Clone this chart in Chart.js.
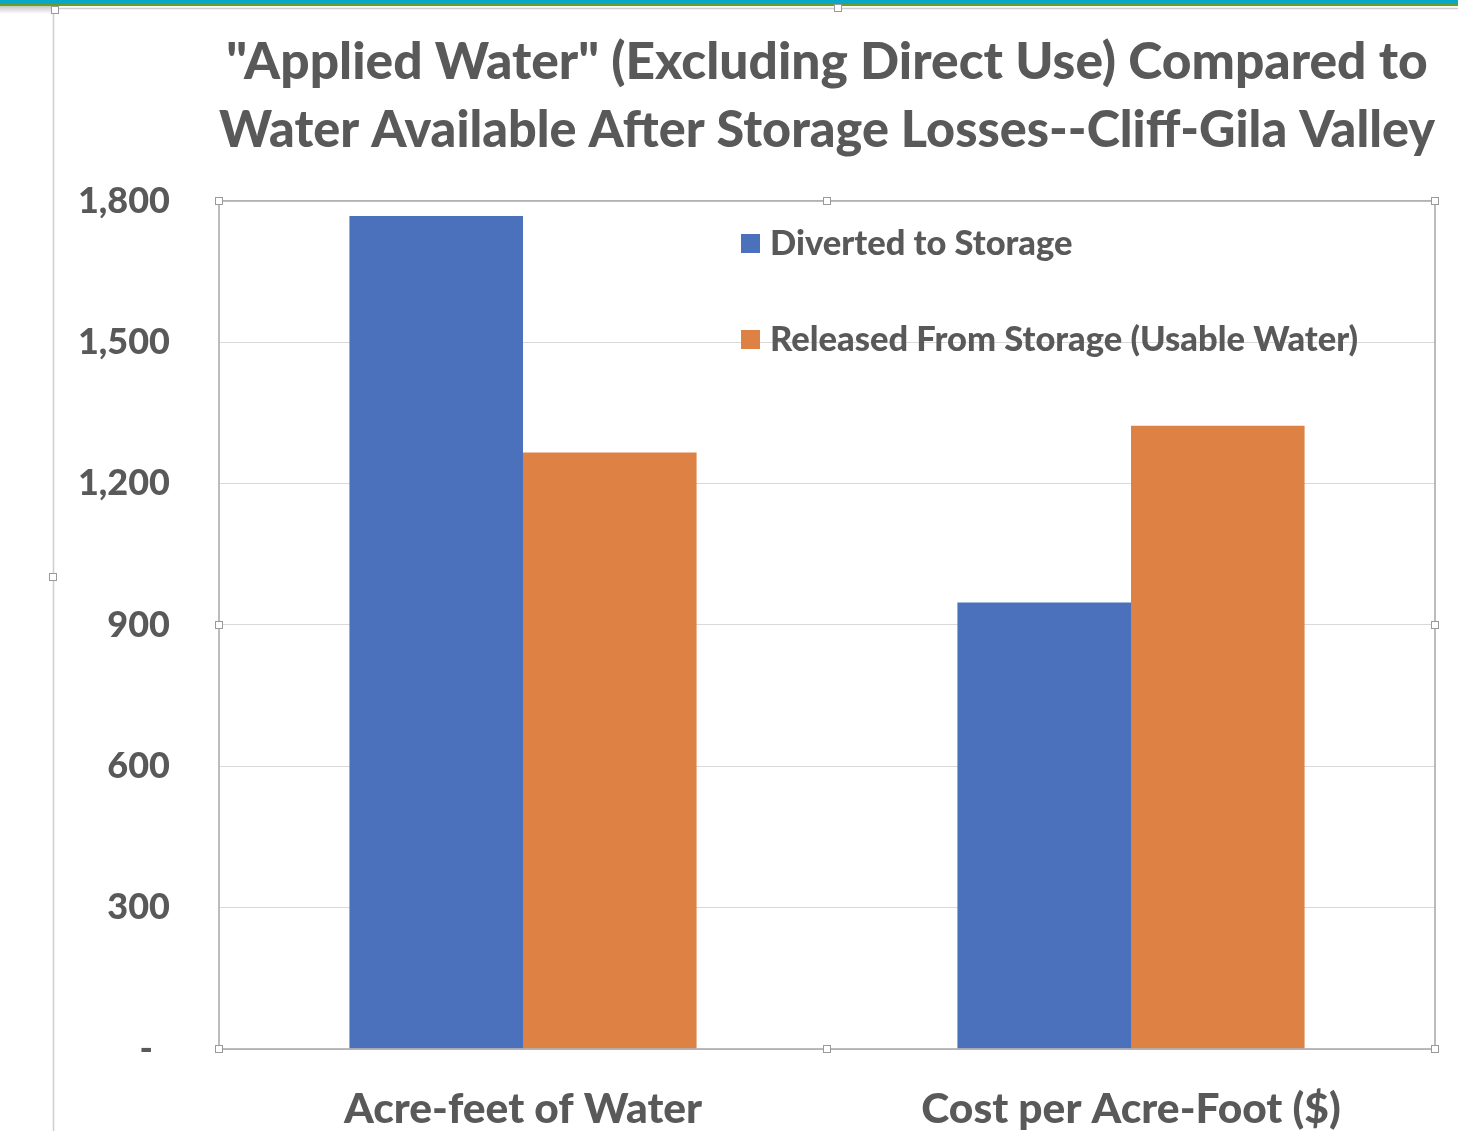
<!DOCTYPE html>
<html>
<head>
<meta charset="utf-8">
<script src="https://cdn.jsdelivr.net/npm/chart.js@4.4.1/dist/chart.umd.min.js"></script>
<style>
  html, body { margin: 0; padding: 0; background: #fff; }
  #wrap { position: relative; width: 1458px; height: 1131px; }
</style>
</head>
<body>
<div id="wrap"><canvas id="chart" width="1458" height="1131"></canvas></div>
<script>
// chart data
const categories = ['Acre-feet of Water', 'Cost per Acre-Foot ($)'];
const seriesNames = ['Diverted to Storage', 'Released From Storage (Usable Water)'];
const divertedValues = [1768, 948];
const releasedValues = [1266, 1323];
const yTicks = [0, 300, 600, 900, 1200, 1500, 1800];
const titleLines = ['"Applied Water" (Excluding Direct Use) Compared to', 'Water Available After Storage Losses--Cliff-Gila Valley'];

const TEXT = '#595959';
const BLUE = '#4B70BC';
const ORANGE = '#DE8145';
const FONT = 'Lato, "Open Sans", sans-serif';
const WEIGHT = '900';

// small white square with grey border, like the Office selection handles
function handle(ctx, x, y) {
    ctx.fillStyle = '#fff';
    ctx.strokeStyle = '#9a9a9a';
    ctx.lineWidth = 1;
    ctx.fillRect(x - 4, y - 4, 8, 8);
    ctx.strokeRect(x - 3.5, y - 3.5, 7, 7);
}

/**
 * Page decoration: teal band on top, the outer frame, plot border, handles.
 */
const frame = {
    id: 'frame',
    beforeDraw(chart) {
        const ctx = chart.ctx;
        ctx.save();
        ctx.fillStyle = '#fff';
        ctx.fillRect(0, 0, chart.width, chart.height);
        // top band
        ctx.fillStyle = '#0AA7C9';
        ctx.fillRect(0, 0, chart.width, 4);
        ctx.fillStyle = '#6A9F24';
        ctx.fillRect(0, 4, chart.width, 2);
        // shadow under the band on the left
        const g = ctx.createLinearGradient(0, 6, 0, 14);
        g.addColorStop(0, 'rgba(160,160,160,0.6)');
        g.addColorStop(1, 'rgba(160,160,160,0)');
        ctx.fillStyle = g;
        ctx.fillRect(0, 6, 52, 8);
        // outer frame
        ctx.strokeStyle = '#cfcfcf';
        ctx.lineWidth = 1.5;
        ctx.beginPath();
        ctx.moveTo(53.5, chart.height);
        ctx.lineTo(53.5, 8.5);
        ctx.lineTo(chart.width, 8.5);
        ctx.stroke();
        ctx.restore();
    },
    afterDraw(chart) {
        const ctx = chart.ctx;
        const a = chart.chartArea;
        ctx.save();
        ctx.strokeStyle = '#a6a6a6';
        ctx.lineWidth = 1.5;
        ctx.strokeRect(a.left, a.top, a.right - a.left, a.bottom - a.top);
        const mx = (a.left + a.right) / 2;
        const my = (a.top + a.bottom) / 2;
        [[a.left, a.top], [mx, a.top], [a.right, a.top],
         [a.left, my], [a.right, my],
         [a.left, a.bottom], [mx, a.bottom], [a.right, a.bottom]].forEach(p => handle(ctx, p[0], p[1]));
        handle(ctx, 55, 10);
        handle(ctx, 838, 8);
        handle(ctx, 53, 577);
        ctx.restore();
    }
};

/**
 * Legend drawn inside the plot area, one entry per dataset.
 */
const innerLegend = {
    id: 'innerLegend',
    afterDatasetsDraw(chart) {
        const ctx = chart.ctx;
        const rows = [243, 339];
        ctx.save();
        ctx.font = WEIGHT + ' 34.5px ' + FONT;
        ctx.textBaseline = 'middle';
        ctx.textAlign = 'left';
        chart.data.datasets.forEach((ds, i) => {
            ctx.fillStyle = ds.backgroundColor;
            ctx.fillRect(741, rows[i] - 9, 19, 19);
            ctx.fillStyle = TEXT;
            ctx.fillText(ds.label, 770, rows[i] + 1);
        });
        ctx.restore();
    }
};

new Chart(document.getElementById('chart'), {
    type: 'bar',
    data: {
        labels: categories,
        datasets: [
            { label: seriesNames[0], data: divertedValues, backgroundColor: BLUE },
            { label: seriesNames[1], data: releasedValues, backgroundColor: ORANGE },
        ]
    },
    options: {
        responsive: false,
        animation: false,
        devicePixelRatio: 1,
        layout: { padding: { left: 0, right: 23, top: 0, bottom: 0 } },
        datasets: {
            bar: { categoryPercentage: 0.571, barPercentage: 1.0 }
        },
        plugins: {
            legend: { display: false },
            tooltip: { enabled: false },
            title: {
                display: true,
                fullSize: false,
                text: titleLines,
                color: TEXT,
                font: { family: FONT, size: 51.5, weight: WEIGHT, lineHeight: 1.33 },
                padding: { top: 28, bottom: 36 },
            },
        },
        scales: {
            x: {
                grid: { display: false, drawTicks: false },
                border: { display: false },
                ticks: {
                    color: TEXT,
                    font: { family: FONT, size: 42.5, weight: WEIGHT },
                    padding: 35,
                },
                afterFit(scale) { scale.height = 82; },
            },
            y: {
                min: 0,
                max: 1800,
                afterBuildTicks(scale) {
                    scale.ticks = yTicks.map(v => ({ value: v }));
                },
                grid: { color: '#d9d9d9', lineWidth: 1, drawTicks: false },
                border: { display: false },
                ticks: {
                    color: TEXT,
                    font: { family: FONT, size: 36, weight: WEIGHT },
                    padding: 49,
                    callback: v => v === 0 ? '-  ' : v.toLocaleString('en-US'),
                },
                afterFit(scale) { scale.width = 219; },
            }
        }
    },
    plugins: [frame, innerLegend]
});
</script>
</body>
</html>
